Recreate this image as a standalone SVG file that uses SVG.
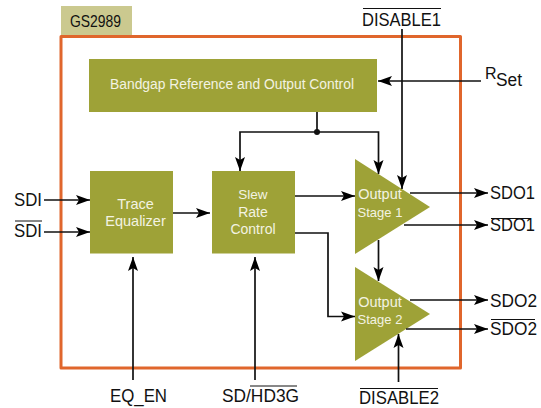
<svg xmlns="http://www.w3.org/2000/svg" width="541" height="408" viewBox="0 0 541 408">
<defs>
<marker id="a" markerUnits="userSpaceOnUse" markerWidth="16" markerHeight="12" refX="14" refY="6" orient="auto"><path d="M0 1 L14 6 L0 11 L3 6 Z" fill="#000"/></marker>
</defs>
<style>
.b{fill:#9ea237}
.w{font-family:"Liberation Sans",Arial,sans-serif;font-size:14.500px;fill:#f3f3e2;text-anchor:middle}
.k{font-family:"Liberation Sans",Arial,sans-serif;font-size:17.500px;fill:#111}
.c{fill:none;stroke:#111;stroke-width:1.7}
.a{marker-end:url(#a)}
.o{stroke:#111;stroke-width:1;fill:none}
</style>
<rect width="541" height="408" fill="#fff"/>
<g id="chip"><rect x="61" y="6" width="71" height="29" fill="#cbc98f"/>
<rect x="61" y="36.5" width="399.500" height="331.500" fill="none" stroke="#e0662c" stroke-width="3" stroke-linejoin="round"/>
<text x="95.500" y="27" text-anchor="middle" style="font-family:'Liberation Sans',Arial,sans-serif;font-size:16.500px;fill:#111" textLength="51" lengthAdjust="spacingAndGlyphs">GS2989</text></g>
<g id="bandgap"><rect class="b" x="89" y="59" width="288" height="53"/><text class="w" x="232" y="89" style="font-size:14px" textLength="244" lengthAdjust="spacingAndGlyphs">Bandgap Reference and Output Control</text></g>
<g id="trace"><rect class="b" x="90" y="171" width="83" height="82.500"/><text class="w" x="135.500" y="209">Trace</text><text class="w" x="135.500" y="226">Equalizer</text></g>
<g id="slew"><rect class="b" x="212" y="171" width="83" height="82.500"/><text class="w" x="253" y="199" style="font-size:13.500px">Slew</text><text class="w" x="253" y="217" style="font-size:14px">Rate</text><text class="w" x="253" y="234" style="font-size:14px">Control</text></g>
<g id="stage1"><polygon class="b" points="355,159 430,207 355,254"/><text class="w" x="380" y="199">Output</text><text class="w" x="380" y="217" style="font-size:13px">Stage 1</text></g>
<g id="stage2"><polygon class="b" points="355,267 430,314 355,361"/><text class="w" x="380" y="307">Output</text><text class="w" x="380" y="324" style="font-size:13px">Stage 2</text></g>
<g id="connectors">
<path class="c a" d="M481 81 H378"/>
<path class="c a" d="M402 29 V189"/>
<path class="c" d="M317 112 V132"/><circle cx="317" cy="132" r="3" fill="#111"/>
<path class="c a" d="M317 132 H240 V171"/>
<path class="c a" d="M317 132 H378.500 V174"/>
<path class="c a" d="M44 200 H90"/>
<path class="c a" d="M44 232 H90"/>
<path class="c a" d="M173 213 H210"/>
<path class="c a" d="M295 196 H355"/>
<path class="c a" d="M295 233 H328 V316.500 H355"/>
<path class="c a" d="M410 193 H488"/>
<path class="c a" d="M404 225 H488"/>
<path class="c a" d="M378.500 240 V281"/>
<path class="c a" d="M410 300 H488"/>
<path class="c a" d="M406 329 H488"/>
<path class="c a" d="M133 380 V257"/>
<path class="c a" d="M255 380 V257"/>
<path class="c a" d="M398.500 382 V334"/>
</g>
<g id="labels">
<text class="k" x="14" y="206" textLength="28" lengthAdjust="spacingAndGlyphs">SDI</text>
<text class="k" x="14" y="237" textLength="28" lengthAdjust="spacingAndGlyphs">SDI</text><path class="o" d="M15 221 H42"/>
<text class="k" x="362" y="26" textLength="79" lengthAdjust="spacingAndGlyphs">DISABLE1</text><path class="o" d="M363 8.500 H441"/>
<text class="k" x="485" y="79" style="font-size:16px">R</text><text class="k" x="496" y="86" style="font-size:18px" textLength="26" lengthAdjust="spacingAndGlyphs">Set</text>
<text class="k" x="490" y="199" textLength="45" lengthAdjust="spacingAndGlyphs">SDO1</text>
<text class="k" x="490" y="231" textLength="45" lengthAdjust="spacingAndGlyphs">SDO1</text><path class="o" d="M491 218.500 H531"/>
<text class="k" x="490" y="307" textLength="47" lengthAdjust="spacingAndGlyphs">SDO2</text>
<text class="k" x="490" y="335" textLength="47" lengthAdjust="spacingAndGlyphs">SDO2</text><path class="o" d="M491 319.500 H535"/>
<text class="k" x="110" y="402" textLength="57" lengthAdjust="spacingAndGlyphs">EQ_EN</text>
<text class="k" x="222" y="402" textLength="77" lengthAdjust="spacingAndGlyphs">SD/HD3G</text><path class="o" d="M250 386 H297"/>
<text class="k" x="359" y="404" textLength="80" lengthAdjust="spacingAndGlyphs">DISABLE2</text><path class="o" d="M360 388.500 H438"/>
</g>
</svg>
